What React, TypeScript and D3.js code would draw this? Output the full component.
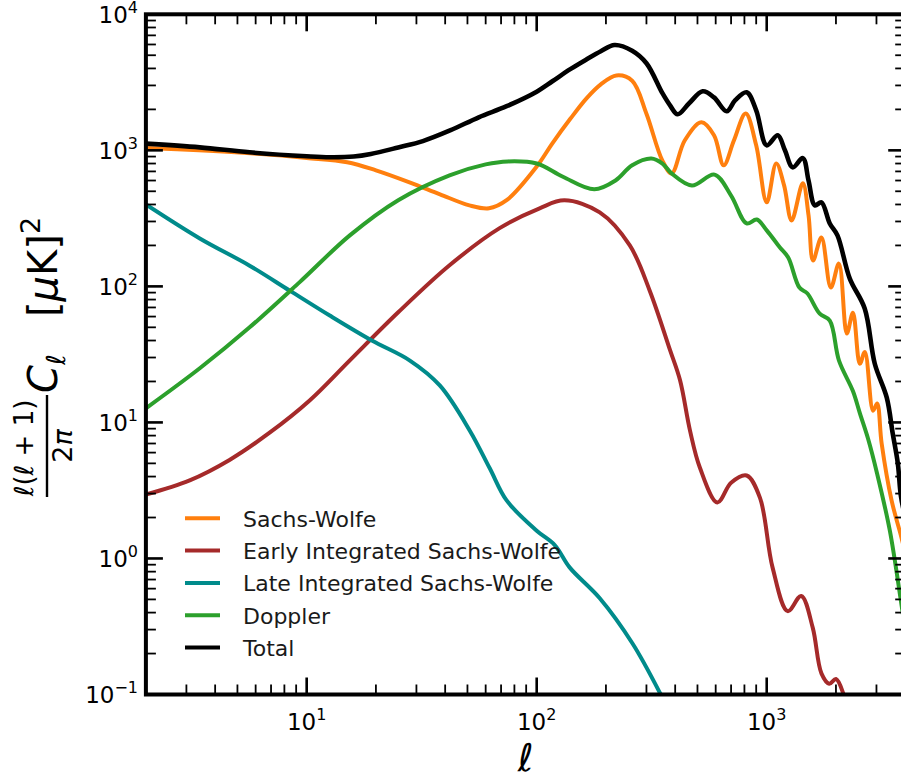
import React from 'react';
import * as d3 from 'd3';

// Angular power spectrum contributions, log-log.
const W = 901;
const H = 777;
const PLOT = { left: 145.9, right: 905.2, top: 14.3, bottom: 694.5 };

const xDomain: [number, number] = [2, 4000];
const yDomain: [number, number] = [0.1, 10000];

const xMajorTicks = [10, 100, 1000];
const xTickExponents = ['1', '2', '3'];
const yMajorTicks = [0.1, 1, 10, 100, 1000, 10000];
const yTickExponents = ['\u22121', '0', '1', '2', '3', '4'];

// Sachs-Wolfe
const swEll = [2, 3.4, 5.7, 10, 15, 20, 28, 38, 51, 62, 74, 100, 117, 140, 165, 190, 222, 260, 300, 352, 386, 440, 520, 590, 650, 720, 810, 900, 1000, 1100, 1190, 1283, 1435, 1520, 1590, 1729, 1900, 2060, 2230, 2370, 2540, 2670, 2900, 3020, 3160, 3490, 3830, 4000];
const swVal = [1040, 1000, 950, 880, 818, 713, 582, 475, 394, 375, 430, 760, 1126, 1705, 2420, 3055, 3550, 3250, 1860, 840, 677, 1180, 1606, 1290, 776, 1180, 1862, 1088, 415, 802, 553, 305, 572, 333, 155, 229, 98, 147, 45, 64, 27, 33, 12.2, 13.8, 7.0, 2.67, 1.48, 1.1];

// Early integrated Sachs-Wolfe
const eiswEll = [2, 3.1, 4.62, 6.9, 10.3, 15.4, 25, 41.8, 69, 103, 132, 188, 254, 310, 380, 420, 464, 512, 610, 700, 818, 934, 1060, 1234, 1412, 1585, 1729, 1870, 2000, 2160, 2400];
const eiswVal = [2.95, 3.75, 5.3, 8.4, 14.5, 28.6, 64.5, 143, 268, 375, 429, 350, 200, 93, 34, 20.4, 8.7, 4.66, 2.58, 3.6, 4.07, 2.8, 0.86, 0.41, 0.53, 0.31, 0.143, 0.12, 0.13, 0.1, 0.05];

// Late integrated Sachs-Wolfe
const liswEll = [2, 3.43, 5.65, 8.44, 12.6, 19.2, 28.1, 37.9, 51.2, 62.5, 74, 100, 120, 139, 188, 261, 343, 400];
const liswVal = [400, 225, 142, 93, 61, 40, 28.5, 18.7, 8.7, 4.6, 2.67, 1.6, 1.25, 0.86, 0.51, 0.237, 0.103, 0.06];

// Doppler
const dopEll = [2, 3.43, 5.65, 9.3, 15.4, 25, 41.8, 60, 75, 100, 130, 178, 220, 260, 315, 352, 386, 473, 593, 700, 818, 905, 1000, 1139, 1240, 1387, 1500, 1700, 1880, 2060, 2370, 2540, 2770, 3020, 3430, 3830, 4000];
const dopVal = [12.7, 25, 50, 107, 237, 430, 655, 788, 829, 800, 640, 517, 600, 776, 870, 800, 677, 552, 663, 465, 290, 310, 258, 194, 163, 98, 89, 63, 56, 28.6, 17, 11.7, 7.4, 4.2, 1.6, 0.49, 0.3];

// Total
const totEll = [2, 3.43, 5.65, 10, 12.6, 16, 19, 25, 32, 42, 56, 74, 100, 117, 140, 165, 190, 218, 260, 300, 352, 380, 410, 460, 527, 590, 670, 730, 818, 900, 1000, 1117, 1200, 1297, 1435, 1520, 1619, 1729, 1880, 2030, 2297, 2667, 2950, 3326, 3530, 3715, 3830, 4000];
const totVal = [1120, 1052, 967, 905, 890, 900, 940, 1050, 1170, 1400, 1750, 2110, 2700, 3220, 3950, 4670, 5350, 5950, 5400, 4370, 2630, 2140, 1840, 2218, 2716, 2450, 1936, 2340, 2670, 1970, 1088, 1290, 1000, 750, 877, 600, 394, 415, 290, 237, 114, 68.7, 27, 15.2, 8.3, 5.0, 2.9, 2.0];

const seriesNames = ['Sachs-Wolfe', 'Early Integrated Sachs-Wolfe', 'Late Integrated Sachs-Wolfe', 'Doppler', 'Total'];
const seriesColors = ['#ff7f0e', '#a52a2a', '#008b8b', '#2ca02c', '#000000'];
const seriesEll = [swEll, eiswEll, liswEll, dopEll, totEll];
const seriesVal = [swVal, eiswVal, liswVal, dopVal, totVal];

const FONT = 'DejaVu Sans';

function minorTicks(domain: [number, number]): number[] {
  const out: number[] = [];
  const p0 = Math.floor(Math.log10(domain[0]));
  const p1 = Math.ceil(Math.log10(domain[1]));
  for (let p = p0; p <= p1; p++) {
    for (let k = 2; k <= 9; k++) {
      const v = k * Math.pow(10, p);
      if (v >= domain[0] && v <= domain[1]) out.push(v);
    }
  }
  return out;
}

export default function App() {
  const x = d3.scaleLog().domain(xDomain).range([PLOT.left, PLOT.right]);
  const y = d3.scaleLog().domain(yDomain).range([PLOT.bottom, PLOT.top]);

  const line = d3
    .line<[number, number]>()
    .x((d) => x(d[0]))
    .y((d) => y(d[1]))
    .curve(d3.curveCatmullRom.alpha(0.5));

  const xMinor = minorTicks(xDomain);
  const yMinor = minorTicks(yDomain);
  const MAJ = 17;
  const MIN = 10;

  const legendX0 = 185;
  const legendX1 = 220;
  const legendTextX = 243;
  const legendY0 = 518.3;
  const legendStep = 32.3;

  return (
    <svg
      width={W}
      height={H}
      style={{ position: 'absolute', left: 0, top: 0, background: '#fff' }}
      fontFamily={FONT}
    >
      <defs>
        <clipPath id="plotClip">
          <rect x={PLOT.left} y={PLOT.top} width={PLOT.right - PLOT.left} height={PLOT.bottom - PLOT.top} />
        </clipPath>
      </defs>
      <rect x={0} y={0} width={W} height={H} fill="#fff" />

      {/* curves */}
      <g clipPath="url(#plotClip)" fill="none" strokeLinejoin="round" strokeLinecap="round">
        {seriesNames.map((name, i) => {
          const pts = seriesEll[i].map((e, j) => [e, seriesVal[i][j]] as [number, number]);
          return (
            <path key={name} d={line(pts) || ''} stroke={seriesColors[i]} strokeWidth={i === 4 ? 4.6 : 4} />
          );
        })}
      </g>

      {/* ticks, inward on all four sides */}
      <g stroke="#000">
        {xMajorTicks.map((t) => (
          <g key={'xM' + t} strokeWidth={2.6}>
            <line x1={x(t)} x2={x(t)} y1={PLOT.bottom} y2={PLOT.bottom - MAJ} />
            <line x1={x(t)} x2={x(t)} y1={PLOT.top} y2={PLOT.top + MAJ} />
          </g>
        ))}
        {xMinor.map((t) => (
          <g key={'xm' + t} strokeWidth={1.8}>
            <line x1={x(t)} x2={x(t)} y1={PLOT.bottom} y2={PLOT.bottom - MIN} />
            <line x1={x(t)} x2={x(t)} y1={PLOT.top} y2={PLOT.top + MIN} />
          </g>
        ))}
        {yMajorTicks.map((t) => (
          <g key={'yM' + t} strokeWidth={2.6}>
            <line x1={PLOT.left} x2={PLOT.left + MAJ} y1={y(t)} y2={y(t)} />
            <line x1={PLOT.right} x2={PLOT.right - MAJ} y1={y(t)} y2={y(t)} />
          </g>
        ))}
        {yMinor.map((t) => (
          <g key={'ym' + t} strokeWidth={1.8}>
            <line x1={PLOT.left} x2={PLOT.left + MIN} y1={y(t)} y2={y(t)} />
            <line x1={PLOT.right} x2={PLOT.right - MIN} y1={y(t)} y2={y(t)} />
          </g>
        ))}
      </g>

      {/* frame */}
      <rect
        x={PLOT.left}
        y={PLOT.top}
        width={PLOT.right - PLOT.left}
        height={PLOT.bottom - PLOT.top}
        fill="none"
        stroke="#000"
        strokeWidth={4}
      />

      {/* tick labels */}
      <g fill="#000" fontSize={23}>
        {xMajorTicks.map((t, i) => (
          <text key={'xl' + t} x={x(t)} y={730} textAnchor="middle">
            10<tspan fontSize={16} dy={-10}>{xTickExponents[i]}</tspan>
          </text>
        ))}
        {yMajorTicks.map((t, i) => (
          <text key={'yl' + t} x={138} y={y(t) + 8.5} textAnchor="end">
            10<tspan fontSize={16} dy={-10}>{yTickExponents[i]}</tspan>
          </text>
        ))}
      </g>

      {/* x label */}
      <text x={(PLOT.left + PLOT.right) / 2} y={771} textAnchor="middle" fontSize={38} fontStyle="italic">
        ℓ
      </text>

      {/* y label */}
      <g transform="rotate(-90)" fill="#000">
        <text x={-448} y={33} textAnchor="middle" fontSize={26}>
          <tspan fontStyle="italic">ℓ</tspan>(<tspan fontStyle="italic">ℓ</tspan> + 1)
        </text>
        <line x1={-497} x2={-395} y1={47} y2={47} stroke="#000" strokeWidth={2.4} />
        <text x={-446} y={72} textAnchor="middle" fontSize={27}>
          2<tspan fontStyle="italic">π</tspan>
        </text>
        <text x={-393} y={57} fontSize={40}>
          <tspan fontStyle="italic">C</tspan>
          <tspan fontStyle="italic" fontSize={26} dy={8}>ℓ</tspan>
        </text>
        <text x={-317} y={57} fontSize={40}>
          [<tspan fontStyle="italic">μ</tspan>K]<tspan fontSize={27} dy={-17}>2</tspan>
        </text>
      </g>

      {/* legend */}
      <g>
        {seriesNames.map((name, i) => (
          <g key={'lg' + name}>
            <line
              x1={legendX0}
              x2={legendX1}
              y1={legendY0 + i * legendStep}
              y2={legendY0 + i * legendStep}
              stroke={seriesColors[i]}
              strokeWidth={4}
            />
            <text x={legendTextX} y={legendY0 + i * legendStep + 8.5} fontSize={22} fill="#1a1a1a">
              {name}
            </text>
          </g>
        ))}
      </g>
    </svg>
  );
}
